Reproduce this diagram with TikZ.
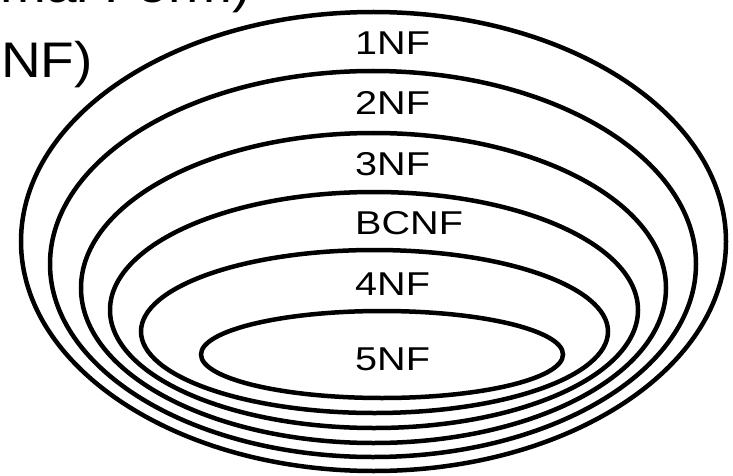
\documentclass[tikz,border=0pt]{standalone}
\usepackage{fontspec}
\setmainfont{Liberation Sans}
\newfontfamily\lblfont[FakeStretch=1.2]{Liberation Sans}
\newfontfamily\ttlfont[FakeStretch=1.1]{Liberation Sans}
\begin{document}
\begin{tikzpicture}[x=1pt,y=-1pt,
  ring/.style={draw=black,line width=4.5pt},
  lbl/.style={font=\lblfont\fontsize{33}{40}\selectfont,inner sep=0pt,anchor=base west},
  ttl/.style={font=\ttlfont\fontsize{50}{60}\selectfont,inner sep=0pt}]
\useasboundingbox (0,0) rectangle (733,476);
\clip (0,0) rectangle (733,476);
\fill[white] (0,0) rectangle (733,476);
\node[ttl,anchor=base east] (t1) at (251,3) {(Normal Form)};
\node[ttl,anchor=base west] (t2) at (1,78) {NF)};
\draw[ring] (373.5,241.5) ellipse [x radius=352.5, y radius=229.5];
\draw[ring] (373,264) ellipse [x radius=323, y radius=193];
\draw[ring] (373.5,288) ellipse [x radius=292.5, y radius=155];
\draw[ring] (374,310) ellipse [x radius=264, y radius=118];
\draw[ring] (374.5,331.5) ellipse [x radius=233.5, y radius=81.5];
\draw[ring] (382,354.5) ellipse [x radius=181, y radius=43.5];
\node[lbl] (n1) at (355,55) {1NF};
\node[lbl] (n2) at (355,115) {2NF};
\node[lbl] (n3) at (355,175) {3NF};
\node[lbl] (nb) at (355,234) {BCNF};
\node[lbl] (n4) at (355,295) {4NF};
\node[lbl] (n5) at (355,370) {5NF};
\end{tikzpicture}
\end{document}
